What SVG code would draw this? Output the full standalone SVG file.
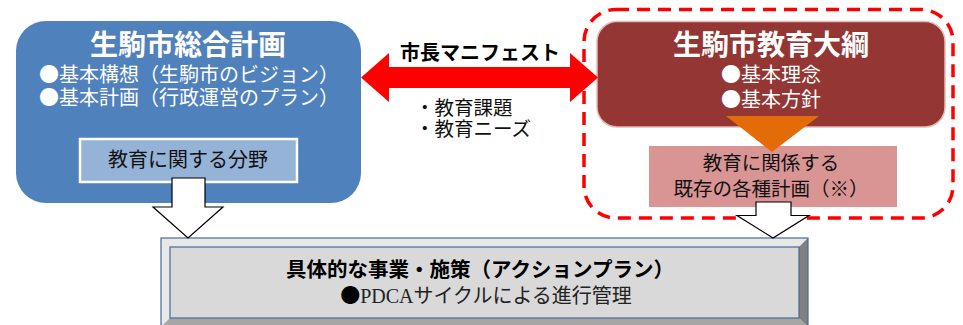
<svg xmlns="http://www.w3.org/2000/svg" width="963" height="325" viewBox="0 0 963 325">
<style>
.jp{font-family:"Noto Sans CJK JP","Liberation Sans",sans-serif}
.title{font-size:28px;font-weight:bold;fill:#fff;text-anchor:middle}
.wt{font-size:20px;fill:#fff;text-anchor:middle}
.bk{font-size:19.5px;fill:#111;text-anchor:middle}
.blk{fill:#fff;stroke:#000;stroke-width:1.2;stroke-linejoin:miter}
</style>
<rect width="963" height="325" fill="#fff"/>

<g id="sogo-keikaku">
<rect x="16" y="21" width="345" height="182" rx="30" ry="30" fill="#4F81BD"/>
<text class="jp title" x="188" y="55">生駒市総合計画</text>
<text class="jp wt" x="189" y="82">●基本構想（生駒市のビジョン）</text>
<text class="jp wt" x="189" y="105">●基本計画（行政運営のプラン）</text>
<g id="kyoiku-bunya">
<rect x="80" y="139" width="217" height="43" fill="#95B3D7" stroke="#fff" stroke-width="2.5"/>
<text class="jp bk" x="188" y="167" style="font-size:20px">教育に関する分野</text>
</g>
</g>

<g id="kyoiku-taiko-group">
<rect x="584" y="9.5" width="369" height="208.5" rx="32" ry="32" fill="none" stroke="#FF0000" stroke-width="3.5" stroke-dasharray="13 8"/>
<g id="kyoiku-taiko">
<rect x="597" y="21.5" width="348" height="105.5" rx="20" ry="20" fill="#943634" stroke="#E6B9B8" stroke-width="1.5"/>
<text class="jp title" x="771" y="55">生駒市教育大綱</text>
<text class="jp wt" x="771" y="82">●基本理念</text>
<text class="jp wt" x="771" y="107">●基本方針</text>
</g>
<g id="kison-keikaku">
<rect x="649" y="146" width="248" height="61" fill="#D99594"/>
<text class="jp bk" x="771" y="170">教育に関係する</text>
<text class="jp bk" x="771" y="196">既存の各種計画（※）</text>
</g>
<polygon points="726,116 819,116 772,152" fill="#E36C09"/>
</g>

<g id="action-plan">
<rect x="161" y="238" width="647" height="89" fill="#D9D9D9"/>
<polygon points="161,238 808,238 799,247 170,247" fill="#E8E8E8"/>
<polygon points="161,238 170,247 170,318 161,327" fill="#E8E8E8"/>
<polygon points="808,238 808,327 799,318 799,247" fill="#808080"/>
<polygon points="161,327 170,318 799,318 808,327" fill="#A6A6A6"/>
<rect x="161" y="238" width="647" height="89" fill="none" stroke="#4A6A94" stroke-width="1.2"/>
<rect x="170" y="247" width="629" height="71" fill="none" stroke="#4A6A94" stroke-width="1.2"/>
<text class="jp" x="480" y="277" style="font-size:20.5px;font-weight:bold;fill:#000;text-anchor:middle">具体的な事業・施策（アクションプラン）</text>
<text x="486" y="303" style="font-family:'Liberation Serif','Noto Sans CJK JP',serif;font-size:20px;fill:#222;text-anchor:middle"><tspan style="font-family:'Noto Sans CJK JP',sans-serif;fill:#000">●</tspan>PDCAサイクルによる進行管理</text>
</g>

<g id="connectors">
<polygon points="361,77.5 389,53 389,67 570,67 570,53 598,77.5 570,102 570,88 389,88 389,102" fill="#FF0000"/>
<text class="jp" x="480" y="60" style="font-size:20px;font-weight:bold;fill:#000;text-anchor:middle">市長マニフェスト</text>
<text class="jp" x="415" y="115" style="font-size:19.5px;fill:#111">・教育課題</text>
<text class="jp" x="415" y="136" style="font-size:19.5px;fill:#111">・教育ニーズ</text>
<polygon class="blk" points="172,178 205,178 205,207 223,207 188,238 153,207 172,207"/>
<polygon class="blk" points="756,202 791,202 791,215.5 809,215.5 773,238 737,215.5 756,215.5"/>
</g>
</svg>
